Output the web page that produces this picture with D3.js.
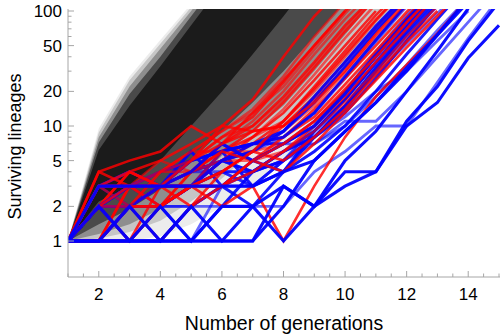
<!DOCTYPE html>
<html>
<head>
<meta charset="utf-8">
<script src="https://cdn.jsdelivr.net/npm/d3@7"></script>
<style>
  body { margin: 0; background: #fff; }
  svg { display: block; font-family: "Liberation Sans", Arial, sans-serif; }
</style>
</head>
<body>
<svg id="chart" width="500" height="335"></svg>
<script>
// generations on the x axis
const generations = [1, 2, 3, 4, 5, 6, 7, 8, 9, 10, 11, 12, 13, 14, 15];

// the grey cloud of simulated trajectories, as nested bands (outer -> core)
const cloudLow = [
  [1, 1, 1, 1.1, 1.4, 2, 3, 5, 9, 16, 30, 60, 120],
  [1, 1.05, 1.2, 1.5, 2.2, 3.5, 6, 10, 18, 35, 70, 140, 280],
  [1, 1.15, 1.4, 1.9, 3, 5.5, 9, 15, 30, 62, 130, 260, 400],
  [1, 1.4, 1.9, 2.8, 5, 9, 16, 30, 60, 120, 300, 400, 400],
  [1, 2.2, 3, 5, 10, 20, 42, 90, 200, 400, 400, 400, 400]
];
const cloudHigh = [
  [1, 9.5, 27, 56, 115, 400, 400, 400, 400, 400, 400, 400, 400],
  [1, 8.8, 25, 52, 108, 400, 400, 400, 400, 400, 400, 400, 400],
  [1, 8, 22, 47, 100, 220, 400, 400, 400, 400, 400, 400, 400],
  [1, 7.2, 19, 40, 90, 200, 400, 400, 400, 400, 400, 400, 400],
  [1, 6.2, 15, 33, 75, 170, 400, 400, 400, 400, 400, 400, 400]
];

// red trajectories
const redLines = [
  [1, 3, 4, 5, 7, 10, 17, 40, 90, 170],
  [1, 2, 3, 4, 6, 9, 14, 27, 60, 120],
  [1, 4, 5, 6, 10, 7, 13, 25, 50, 100, 190],
  [1, 3, 3, 3, 5, 8, 12, 24, 50, 100],
  [1, 2, 3, 5, 4, 7, 11, 20, 42, 85, 160],
  [1, 1, 3, 2, 4, 7, 10, 18, 36, 75, 140],
  [1, 2, 4, 3, 5, 6, 9, 16, 32, 66, 130],
  [1, 3, 3, 4, 6, 6, 8, 14, 28, 58, 115],
  [1, 2, 1, 3, 4, 5, 8, 13, 25, 50, 100],
  [1, 4, 3, 3, 4, 6, 7, 11, 22, 45, 92, 170],
  [1, 2, 2, 3, 3, 6, 8, 11, 20, 40, 82, 160],
  [1, 1, 2, 1, 2, 4, 6, 10, 18, 36, 72, 140],
  [1, 3, 4, 3, 5, 10, 9, 10, 17, 32, 65, 130],
  [1, 2, 3, 3, 3, 5, 6, 9, 15, 29, 58, 112],
  [1, 1, 1, 2, 3, 3, 5, 8, 14, 26, 50, 98, 180],
  [1, 2, 2, 2, 3, 5, 7, 8, 12, 23, 45, 88, 170],
  [1, 3, 2, 4, 4, 6, 6, 7, 11, 20, 40, 80, 155],
  [1, 1, 2, 3, 2, 3, 4, 6, 10, 18, 36, 70, 140],
  [1, 2, 2, 3, 3, 2, 3, 1, 3, 8, 18, 34, 64, 130],
  [1, 3, 3, 2, 4, 5, 5, 6, 9, 16, 30, 60, 110],
  [1, 2, 4, 3, 3, 4, 6, 5, 8, 14, 28, 54, 100],
  [1, 1, 3, 3, 4, 6, 5, 4, 7, 13, 25, 48, 90, 170],
  [1, 2, 2, 4, 5, 8, 10, 17, 34, 70, 140],
  [1, 1, 2, 2, 3, 4, 6, 11, 21, 42, 84, 160],
  [1, 2, 3, 3, 5, 7, 9, 10, 16, 30, 62, 120],
  [1, 3, 3, 4, 6, 9, 13, 22, 46, 95, 180],
  [1, 2, 1, 2, 3, 3, 5, 7, 11, 21, 40, 80, 150]
];

// blue trajectories
const blueLines = [
  [1, 1, 1, 1, 1, 1, 1, 3, 2, 3, 4, 10, 16, 39, 75],
  [1, 2, 1, 2, 1, 2, 2, 1, 2, 4, 4, 11, 22, 55, 120],
  [1, 1, 2, 1, 2, 1, 2, 3, 2, 5, 9, 20, 45, 105],
  [1, 2, 2, 2, 2, 2, 2, 2, 4, 6, 10, 10, 24, 58, 130],
  [1, 3, 3, 3, 3, 3, 3, 4, 5, 9, 16, 30, 62, 130],
  [1, 3, 4, 3, 3, 5, 4, 6, 8, 13, 26, 55, 115],
  [1, 1, 1, 2, 1, 3, 3, 5, 7, 11, 11, 20, 40, 80, 160],
  [1, 2, 2, 1, 2, 3, 5, 7, 7, 10, 18, 34, 68, 130],
  [1, 1, 2, 2, 3, 6, 3, 4, 6, 10, 20, 42, 85, 170],
  [1, 2, 3, 2, 3, 5, 4, 5, 9, 15, 32, 68, 140],
  [1, 1, 1, 1, 2, 3, 2, 4, 8, 14, 30, 62, 120],
  [1, 2, 3, 3, 6, 3, 5, 4, 9, 17, 36, 76, 150],
  [1, 1, 2, 3, 3, 4, 3, 5, 10, 19, 40, 82, 160],
  [1, 2, 1, 1, 1, 2, 4, 6, 9, 17, 35, 72, 140],
  [1, 3, 2, 3, 4, 7, 5, 7, 11, 20, 44, 92, 170],
  [1, 1, 1, 1, 1, 1, 1, 2, 5, 9, 16, 32, 62, 120],
  [1, 2, 2, 3, 4, 4, 3, 5, 8, 15, 30, 58, 110, 200],
  [1, 3, 3, 4, 5, 6, 7, 7, 10, 20, 42, 86, 170],
  [1, 1, 2, 2, 2, 3, 4, 5, 8, 15, 28, 52, 95, 180],
  [1, 2, 2, 2, 3, 4, 4, 5, 8, 15, 32, 66, 130],
  [1, 1, 2, 3, 4, 5, 7, 8, 13, 27, 56, 115],
  [1, 2, 3, 3, 5, 6, 7, 9, 16, 33, 68, 130],
  [1, 1, 1, 2, 3, 5, 6, 8, 13, 26, 54, 110],
  [1, 2, 2, 3, 3, 5, 6, 9, 18, 36, 74, 140],
  [1, 2, 3, 3, 4, 7, 5, 7, 10, 19, 40, 84, 160],
  [1, 1, 2, 2, 3, 3, 4, 6, 8, 12, 20, 30, 55, 100]
];
const blueFaint = [3, 6, 7, 9, 12, 14, 16, 18, 22, 25];
const blueOnTop = [0, 1, 2, 4, 15];

const xTicks = [2, 4, 6, 8, 10, 12, 14];
const yTicks = [1, 2, 5, 10, 20, 50, 100];
const yMinorTicks = [3, 4, 6, 7, 8, 9, 30, 40, 60, 70, 80, 90];

const svg = d3.select("#chart");
const plotLeft = 68, plotRight = 499, plotBottom = 277, plotTop = 9;

const x = d3.scaleLinear().domain([1, 15]).range([plotLeft, plotRight]);
const y = d3.scaleLog().domain([1, 100]).range([241, 11]);

svg.append("clipPath").attr("id", "plotclip")
  .append("rect")
  .attr("x", plotLeft).attr("y", plotTop)
  .attr("width", 500 - plotLeft).attr("height", plotBottom - plotTop);

const plot = svg.append("g").attr("clip-path", "url(#plotclip)");

// grey cloud
const cloudShades = ["#ececec", "#c6c6c6", "#8e8e8e", "#4a4a4a", "#1b1b1b"];
const band = d3.area()
  .x((d, i) => x(generations[i]))
  .y0(d => y(d[0]))
  .y1(d => y(d[1]));

cloudLow.forEach((lo, k) => {
  plot.append("path")
    .datum(lo.map((v, i) => [v, cloudHigh[k][i]]))
    .attr("d", band)
    .attr("fill", cloudShades[k]);
});

// drawing order: faint blue, then red and blue interleaved, then the slowest blue on top
const traces = [];
blueLines.forEach((v, i) => {
  if (blueFaint.includes(i)) traces.push({ v, color: "#0000ff", op: 0.6, w: 2.8 });
});
const mid = blueLines.filter((v, i) => !blueFaint.includes(i) && !blueOnTop.includes(i));
redLines.forEach((v, i) => {
  traces.push({ v, color: "#ff0000", op: i % 3 === 1 ? 0.6 : 0.82, w: 2.6 });
  if (i % 2 === 1 && mid[(i - 1) / 2]) {
    traces.push({ v: mid[(i - 1) / 2], color: "#0000ff", op: 0.9, w: 3 });
  }
});
blueOnTop.forEach(i => traces.push({ v: blueLines[i], color: "#0000ff", op: 0.95, w: 3.1 }));

const line = d3.line()
  .x((d, i) => x(generations[i]))
  .y(d => y(d));

plot.append("g").selectAll("path")
  .data(traces)
  .join("path")
  .attr("d", d => line(d.v))
  .attr("fill", "none")
  .attr("stroke", d => d.color)
  .attr("stroke-width", d => d.w)
  .attr("stroke-opacity", d => d.op);

// axes
const axisColor = "#a6a6a6";
const axes = svg.append("g");

axes.append("line")
  .attr("x1", plotLeft).attr("x2", 500)
  .attr("y1", plotBottom).attr("y2", plotBottom)
  .attr("stroke", axisColor);
axes.append("line")
  .attr("x1", plotLeft).attr("x2", plotLeft)
  .attr("y1", plotBottom).attr("y2", plotTop)
  .attr("stroke", axisColor);

const xMinor = d3.range(1, 15.01, 0.5).filter(v => !xTicks.includes(v));
axes.append("g").selectAll("line")
  .data(xMinor)
  .join("line")
  .attr("x1", d => x(d)).attr("x2", d => x(d))
  .attr("y1", plotBottom).attr("y2", plotBottom - 3.5)
  .attr("stroke", axisColor);

axes.append("g").selectAll("line")
  .data(xTicks)
  .join("line")
  .attr("x1", d => x(d)).attr("x2", d => x(d))
  .attr("y1", plotBottom).attr("y2", plotBottom - 6)
  .attr("stroke", axisColor);

axes.append("g").selectAll("text")
  .data(xTicks)
  .join("text")
  .attr("x", d => x(d))
  .attr("y", 300)
  .attr("text-anchor", "middle")
  .attr("font-size", "17px")
  .text(d => d);

axes.append("g").selectAll("line")
  .data(yMinorTicks)
  .join("line")
  .attr("x1", plotLeft).attr("x2", plotLeft + 3.5)
  .attr("y1", d => y(d)).attr("y2", d => y(d))
  .attr("stroke", axisColor);

axes.append("g").selectAll("line")
  .data(yTicks)
  .join("line")
  .attr("x1", plotLeft).attr("x2", plotLeft + 6)
  .attr("y1", d => y(d)).attr("y2", d => y(d))
  .attr("stroke", axisColor);

axes.append("g").selectAll("text")
  .data(yTicks)
  .join("text")
  .attr("x", 62)
  .attr("y", d => y(d) + 6)
  .attr("text-anchor", "end")
  .attr("font-size", "17px")
  .text(d => d);

svg.append("text")
  .attr("x", 284)
  .attr("y", 330)
  .attr("text-anchor", "middle")
  .attr("font-size", "19.5px")
  .text("Number of generations");

svg.append("text")
  .attr("transform", "translate(21,146.5) rotate(-90)")
  .attr("text-anchor", "middle")
  .attr("font-size", "18px")
  .text("Surviving lineages");
</script>
</body>
</html>
